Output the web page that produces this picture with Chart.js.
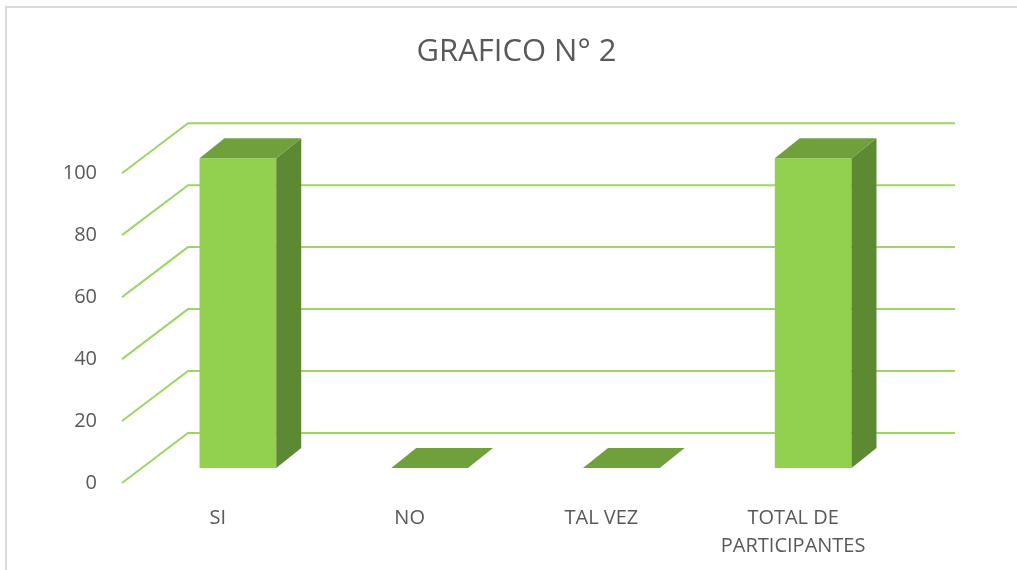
<!DOCTYPE html>
<html>
<head>
<meta charset="utf-8">
<script src="https://cdn.jsdelivr.net/npm/chart.js@4.4.1/dist/chart.umd.min.js"></script>
<style>
  html, body { margin: 0; padding: 0; background: #ffffff; }
  #wrap { width: 1017px; height: 570px; position: relative; }
</style>
</head>
<body>
<div id="wrap"><canvas id="c" width="1017" height="570"></canvas></div>
<script>
const categories = ['SI', 'NO', 'TAL VEZ', ['TOTAL DE', 'PARTICIPANTES']];
const values = [100, 0, 0, 100];
const yTicks = [0, 20, 40, 60, 80, 100];
const titleText = 'GRAFICO N° 2';

const FRONT = '#92D050';
const SIDE = '#5E8933';
const TOP = '#70A03C';
const GRID = '#9DD566';
const TEXT = '#595959';

// oblique depth of the whole floor/wall, and bar plane placement
const WALL_DX = 66, WALL_DY = -50;
const BAR_DX = 20, BAR_DY = -15;
const DEPTH_DX = 25, DEPTH_DY = -20;

const frame3d = {
  id: 'frame3d',
  beforeDraw(chart) {
    const ctx = chart.ctx;
    ctx.save();
    ctx.strokeStyle = '#D9D9D9';
    ctx.lineWidth = 2;
    ctx.beginPath();
    ctx.moveTo(6, 570); ctx.lineTo(6, 7); ctx.lineTo(1017, 7);
    ctx.stroke();
    ctx.restore();
  },
  beforeDatasetsDraw(chart) {
    const ctx = chart.ctx;
    const a = chart.chartArea;
    const y = chart.scales.y;
    ctx.save();
    ctx.strokeStyle = GRID;
    ctx.lineWidth = 2;
    yTicks.forEach(v => {
      const py = y.getPixelForValue(v);
      ctx.beginPath();
      ctx.moveTo(a.left, py);
      ctx.lineTo(a.left + WALL_DX, py + WALL_DY);
      ctx.lineTo(a.right + WALL_DX, py + WALL_DY);
      ctx.stroke();
    });
    ctx.restore();
    ctx.save();
    ctx.translate(BAR_DX, BAR_DY);
  },
  afterDatasetsDraw(chart) {
    const ctx = chart.ctx;
    const meta = chart.getDatasetMeta(0);
    meta.data.forEach(bar => {
      const p = bar.getProps(['x', 'y', 'base', 'width'], true);
      const l = p.x - p.width / 2, r = p.x + p.width / 2;
      const t = Math.min(p.y, p.base), b = Math.max(p.y, p.base);
      if (b - t > 0.5) {
        ctx.fillStyle = SIDE;
        ctx.beginPath();
        ctx.moveTo(r, b);
        ctx.lineTo(r + DEPTH_DX, b + DEPTH_DY);
        ctx.lineTo(r + DEPTH_DX, t + DEPTH_DY);
        ctx.lineTo(r, t);
        ctx.closePath();
        ctx.fill();
      }
      ctx.fillStyle = TOP;
      ctx.beginPath();
      ctx.moveTo(l, t);
      ctx.lineTo(l + DEPTH_DX, t + DEPTH_DY);
      ctx.lineTo(r + DEPTH_DX, t + DEPTH_DY);
      ctx.lineTo(r, t);
      ctx.closePath();
      ctx.fill();
    });
    ctx.restore();
  }
};

new Chart(document.getElementById('c'), {
  type: 'bar',
  data: {
    labels: categories,
    datasets: [{
      data: values,
      backgroundColor: FRONT,
      borderWidth: 0,
      categoryPercentage: 1,
      barPercentage: 0.4,
      clip: false
    }]
  },
  options: {
    responsive: false,
    devicePixelRatio: 1,
    animation: false,
    layout: { padding: { left: 16, right: 0, top: 0, bottom: 0 } },
    plugins: {
      legend: { display: false },
      tooltip: { enabled: false },
      title: {
        display: true,
        text: titleText,
        color: TEXT,
        font: { family: 'Open Sans', size: 31, weight: 'normal', lineHeight: 1.2 },
        padding: { top: 34, bottom: 102 }
      }
    },
    scales: {
      x: {
        grid: { display: false },
        border: { display: false },
        ticks: {
          color: TEXT,
          font: { family: 'Open Sans', size: 20, lineHeight: 1.4 },
          padding: 13,
          maxRotation: 0,
          autoSkip: false
        },
        afterFit(axis) { axis.height = 87; }
      },
      y: {
        min: 0,
        max: 100,
        afterBuildTicks(axis) { axis.ticks = yTicks.map(v => ({ value: v })); },
        grid: { display: false },
        border: { display: false },
        ticks: {
          color: TEXT,
          font: { family: 'Open Sans', size: 20 },
          padding: 17
        },
        afterFit(axis) { axis.width = 106; }
      },
      yRight: {
        position: 'right',
        display: true,
        min: 0,
        max: 100,
        grid: { display: false },
        border: { display: false },
        ticks: { display: false },
        afterFit(axis) { axis.width = 128; }
      }
    }
  },
  plugins: [frame3d]
});
</script>
</body>
</html>
